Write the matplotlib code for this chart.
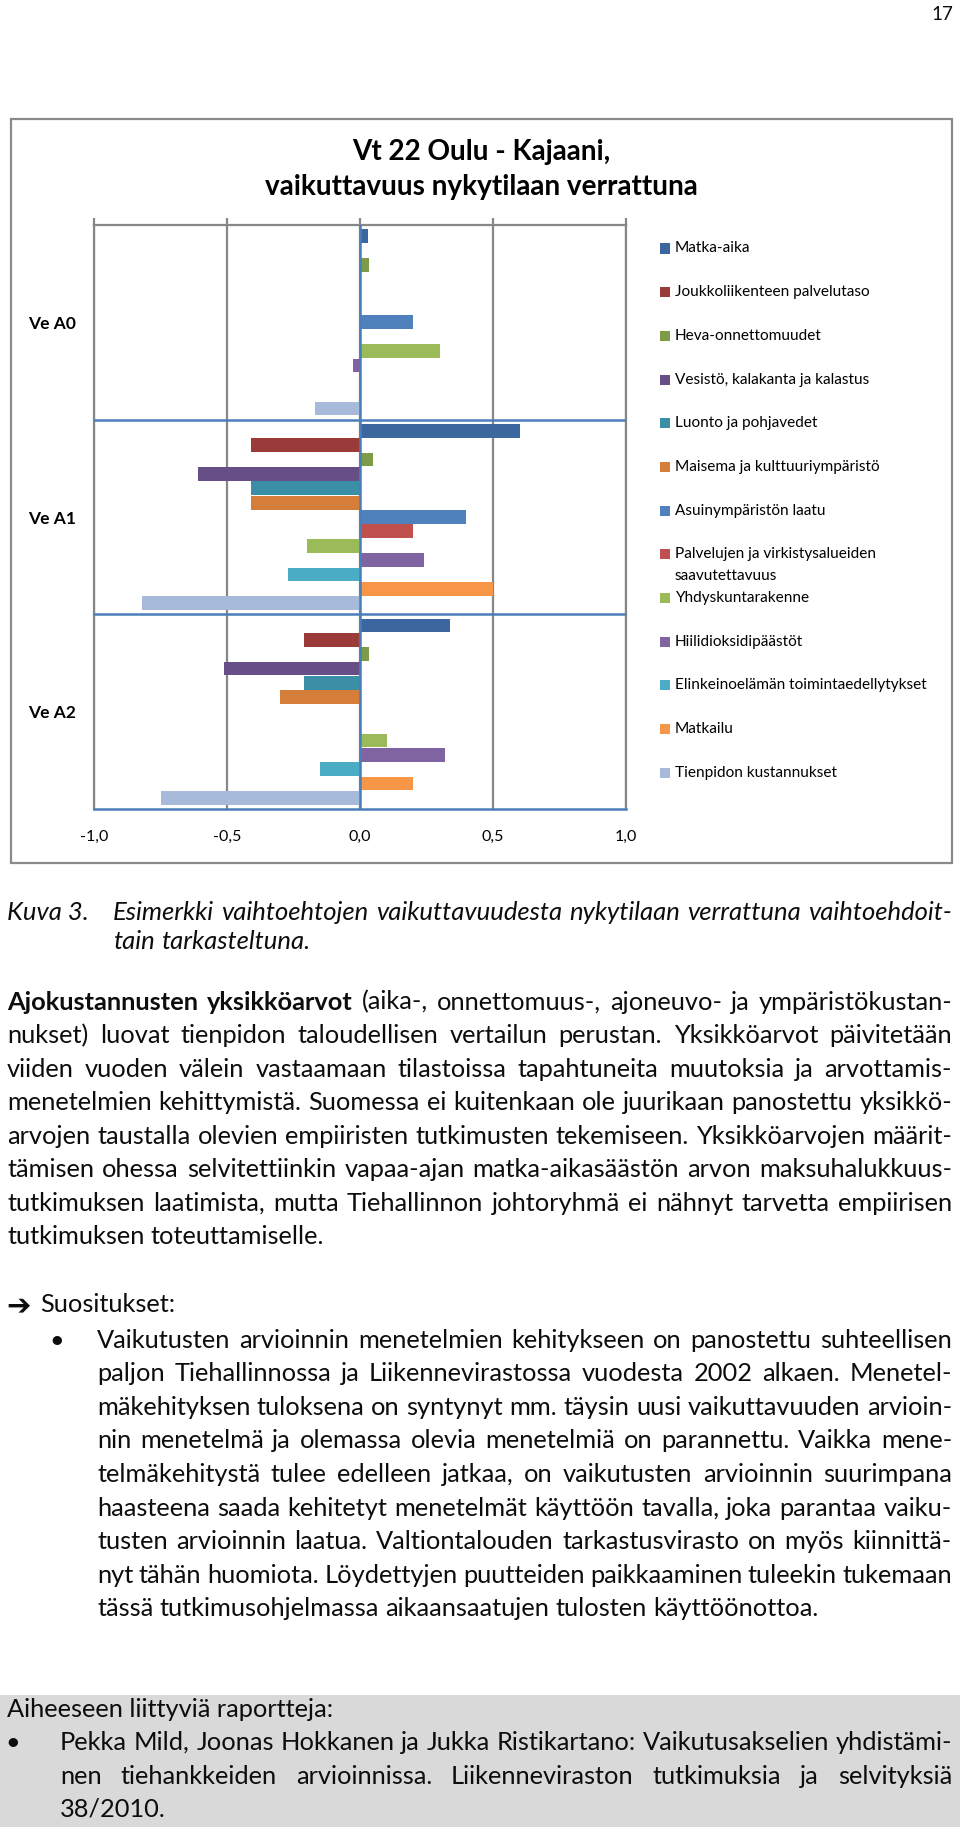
import matplotlib
matplotlib.use('Agg')
import matplotlib.pyplot as plt
from matplotlib.patches import Rectangle
import numpy as np

plt.rcParams['font.family'] = ['Lato', 'DejaVu Sans']

# ---------------- data ----------------
scenarios = ['Ve A0', 'Ve A1', 'Ve A2']
series_names = [
    'Matka-aika', 'Joukkoliikenteen palvelutaso', 'Heva-onnettomuudet',
    'Vesistö, kalakanta ja kalastus', 'Luonto ja pohjavedet',
    'Maisema ja kulttuuriympäristö', 'Asuinympäristön laatu',
    'Palvelujen ja virkistysalueiden\nsaavutettavuus', 'Yhdyskuntarakenne',
    'Hiilidioksidipäästöt', 'Elinkeinoelämän toimintaedellytykset',
    'Matkailu', 'Tienpidon kustannukset']
matka_aika = [0.03, 0.60, 0.34]
joukkoliikenne = [0.0, -0.41, -0.21]
heva = [0.035, 0.05, 0.035]
vesisto = [0.0, -0.61, -0.51]
luonto = [0.0, -0.41, -0.21]
maisema = [0.0, -0.41, -0.30]
asuinymparisto = [0.20, 0.40, 0.0]
palvelut = [0.0, 0.20, 0.0]
yhdyskunta = [0.30, -0.20, 0.10]
hiilidioksidi = [-0.025, 0.24, 0.32]
elinkeino = [0.0, -0.27, -0.15]
matkailu = [0.0, 0.50, 0.20]
tienpito = [-0.17, -0.82, -0.75]
series_values = [matka_aika, joukkoliikenne, heva, vesisto, luonto, maisema,
                 asuinymparisto, palvelut, yhdyskunta, hiilidioksidi,
                 elinkeino, matkailu, tienpito]
series_colors = ['#3B679E', '#9B3B39', '#7E9B48', '#664F86', '#3A8EA5',
                 '#D47E3A', '#4F81BD', '#C0504D', '#9BBB59', '#8064A2',
                 '#4BACC6', '#F79646', '#A7BADA']
x_ticks = [-1.0, -0.5, 0.0, 0.5, 1.0]
x_ticklabels = ['-1,0', '-0,5', '0,0', '0,5', '1,0']

chart_title = ['Vt 22 Oulu - Kajaani,', 'vaikuttavuus nykytilaan verrattuna']
page_number = '17'
caption_label = 'Kuva 3.'
caption_lines = ['Esimerkki vaihtoehtojen vaikuttavuudesta nykytilaan verrattuna vaihtoehdoit-',
                 'tain tarkasteltuna.']
para_lines = [
    'Ajokustannusten yksikköarvot (aika-, onnettomuus-, ajoneuvo- ja ympäristökustan-',
    'nukset) luovat tienpidon taloudellisen vertailun perustan. Yksikköarvot päivitetään',
    'viiden vuoden välein vastaamaan tilastoissa tapahtuneita muutoksia ja arvottamis-',
    'menetelmien kehittymistä. Suomessa ei kuitenkaan ole juurikaan panostettu yksikkö-',
    'arvojen taustalla olevien empiiristen tutkimusten tekemiseen. Yksikköarvojen määrit-',
    'tämisen ohessa selvitettiinkin vapaa-ajan matka-aikasäästön arvon maksuhalukkuus-',
    'tutkimuksen laatimista, mutta Tiehallinnon johtoryhmä ei nähnyt tarvetta empiirisen',
    'tutkimuksen toteuttamiselle.']
suos_head = 'Suositukset:'
suos_lines = [
    'Vaikutusten arvioinnin menetelmien kehitykseen on panostettu suhteellisen',
    'paljon Tiehallinnossa ja Liikennevirastossa vuodesta 2002 alkaen. Menetel-',
    'mäkehityksen tuloksena on syntynyt mm. täysin uusi vaikuttavuuden arvioin-',
    'nin menetelmä ja olemassa olevia menetelmiä on parannettu. Vaikka mene-',
    'telmäkehitystä tulee edelleen jatkaa, on vaikutusten arvioinnin suurimpana',
    'haasteena saada kehitetyt menetelmät käyttöön tavalla, joka parantaa vaiku-',
    'tusten arvioinnin laatua. Valtiontalouden tarkastusvirasto on myös kiinnittä-',
    'nyt tähän huomiota. Löydettyjen puutteiden paikkaaminen tuleekin tukemaan',
    'tässä tutkimusohjelmassa aikaansaatujen tulosten käyttöönottoa.']
box_head = 'Aiheeseen liittyviä raportteja:'
box_lines = [
    'Pekka Mild, Joonas Hokkanen ja Jukka Ristikartano: Vaikutusakselien yhdistämi-',
    'nen tiehankkeiden arvioinnissa. Liikenneviraston tutkimuksia ja selvityksiä',
    '38/2010.']

# ---------------- figure ----------------
W, H = 960, 1834
fig = plt.figure(figsize=(W / 100, H / 100), dpi=100)
fig.patch.set_facecolor('white')
renderer = fig.canvas.get_renderer()
TXT = '#0d0d0d'


def fx(x):
    return x / W


def fy(y):
    return 1 - y / H


def tw(s, size, **kw):
    t = fig.text(0, 0, s, fontsize=size, **kw)
    w = t.get_window_extent(renderer).width
    t.remove()
    return w


def fit(s, target, **kw):
    return 10 * target / tw(s, 10, **kw)


# chart frame
fig.add_artist(Rectangle((fx(11), fy(863)), (952 - 11) / W, (863 - 119) / H,
                         transform=fig.transFigure, fill=False,
                         edgecolor='#8A8A8A', lw=1.6))

tsize = fit(chart_title[1], 433, fontweight='bold')
fig.text(fx(481), fy(152), chart_title[0], ha='center', va='center',
         fontsize=tsize, fontweight='bold', color='black')
fig.text(fx(481), fy(187), chart_title[1], ha='center', va='center',
         fontsize=tsize, fontweight='bold', color='black')

ax = fig.add_axes([fx(94), fy(809), (626 - 94) / W, (809 - 225) / H])
ax.set_xlim(-1, 1)
ax.set_ylim(3, 0)
n = len(series_values)
step = 1 / (n + 0.55)
for i, (vals, col) in enumerate(zip(series_values, series_colors)):
    yy = np.arange(len(scenarios)) + 0.5 + (i - (n - 1) / 2) * step
    ax.barh(yy, vals, height=step * 0.96, color=col, edgecolor='none', zorder=3)

GRAY = '#878787'
BLUE = '#4A7EBB'
ax.set_xticks(x_ticks)
ax.set_xticklabels(x_ticklabels)
ax.xaxis.grid(True, color=GRAY, lw=1.6, zorder=1)
ax.axvline(0, color=BLUE, lw=1.8, zorder=4)
for k in range(1, len(scenarios)):
    ax.axhline(k, color=BLUE, lw=1.8, zorder=4)
for s in ['top', 'left', 'right']:
    ax.spines[s].set_color(GRAY)
    ax.spines[s].set_linewidth(1.6)
ax.spines['bottom'].set_color(BLUE)
ax.spines['bottom'].set_linewidth(1.8)
ax.spines['bottom'].set_zorder(5)
lsize = fit('-1,0', 28)
ax.tick_params(axis='x', top=True, bottom=False, labeltop=False,
               labelbottom=True, direction='out', length=5, width=1.6,
               color=GRAY, pad=10, labelsize=lsize, labelcolor='black')
ax.set_yticks(np.arange(len(scenarios)) + 0.5)
vsize = fit('Ve A0', 48, fontweight='bold')
ax.set_yticklabels(scenarios, fontweight='bold', fontsize=vsize)
ax.tick_params(axis='y', length=0, pad=13)

# legend
legsize = fit('Elinkeinoelämän toimintaedellytykset', 252)
for i, (name, col) in enumerate(zip(series_names, series_colors)):
    yc = 248.5 + 43.7 * i
    fig.add_artist(Rectangle((fx(660), fy(yc + 5)), 10 / W, 10 / H,
                             transform=fig.transFigure, facecolor=col,
                             edgecolor='none'))
    parts = name.split('\n')
    for j, p in enumerate(parts):
        fig.text(fx(675), fy(yc + 21.5 * j), p, ha='left', va='center',
                 fontsize=legsize, color='black')

fig.text(fx(953), fy(14), page_number, ha='right', va='center',
         fontsize=13.5, color=TXT)

# ---------------- body text ----------------
space10 = tw('a a', 10) - tw('aa', 10)


def natural(s, style='normal', bold_words=0):
    words = s.split()
    w = 0
    for k, wd in enumerate(words):
        w += tw(wd, 10, fontweight='bold' if k < bold_words else 'normal',
                fontstyle=style)
    return w + space10 * (len(words) - 1)


justified = [(s, 952 - 7, 2 if k == 0 else 0) for k, s in enumerate(para_lines[:-1])]
justified += [(s, 952 - 97, 0) for s in suos_lines[:-1]]
justified += [(s, 952 - 60, 0) for s in box_lines[:2]]
ratios = np.array([a / natural(s, bold_words=b) for s, a, b in justified])
BS = 10 * np.percentile(ratios, 30) * 0.995
cap_ratio = (952 - 113) / natural(caption_lines[0], style='italic')
CS = min(10 * cap_ratio * 0.995, BS * 1.06)


def line(s, x0, x1, yc, justify=True, bold_words=0, style='normal', size=None):
    size = BS if size is None else size
    words = s.split()
    wts = ['bold' if k < bold_words else 'normal' for k in range(len(words))]
    ws = [tw(w, size, fontweight=wt, fontstyle=style) for w, wt in zip(words, wts)]
    space = space10 * size / 10
    if justify and len(words) > 1:
        if sum(ws) + space * 0.8 * (len(words) - 1) > x1 - x0:
            shrink = (x1 - x0) / (sum(ws) + space * 0.85 * (len(words) - 1))
            size = size * shrink
            ws = [w * shrink for w in ws]
        gap = (x1 - x0 - sum(ws)) / (len(words) - 1)
    else:
        gap = space
    x = x0
    base = yc + 0.26 * size * 100 / 72
    for w, wt, wd in zip(words, wts, ws):
        fig.text(fx(x), fy(base), w, fontsize=size, fontweight=wt, fontstyle=style,
                 ha='left', va='baseline', color=TXT)
        x += wd + gap


bpx = BS * 100 / 72

# caption
fig.text(fx(7), fy(913 + 0.26 * CS * 100 / 72), caption_label, fontsize=CS,
         fontstyle='italic', ha='left', va='baseline', color=TXT)
line(caption_lines[0], 113, 952, 913, True, style='italic', size=CS)
line(caption_lines[1], 113, 952, 942, False, style='italic', size=CS)

# paragraph
for k, s in enumerate(para_lines):
    line(s, 7, 952, 1003 + 33.55 * k, k < len(para_lines) - 1,
         bold_words=2 if k == 0 else 0)

# suositukset
fig.text(fx(6), fy(1306), '\u2794', fontsize=BS * 1.15, ha='left', va='center',
         color=TXT, family=['DejaVu Sans'])
fig.text(fx(40), fy(1305 + 0.26 * bpx), suos_head, fontsize=BS, ha='left',
         va='baseline', color=TXT)
fig.text(fx(57), fy(1341 + 0.26 * bpx), '\u2022', fontsize=BS, ha='center',
         va='baseline', color=TXT)
for k, s in enumerate(suos_lines):
    line(s, 97, 952, 1341 + 33.6 * k, k < len(suos_lines) - 1)

# grey box
fig.add_artist(Rectangle((0, fy(1827)), 1, (1827 - 1695) / H,
                         transform=fig.transFigure, facecolor='#D9D9D9',
                         edgecolor='none', zorder=0))
fig.text(fx(7), fy(1710 + 0.26 * bpx), box_head, fontsize=BS, ha='left',
         va='baseline', color=TXT)
fig.text(fx(13), fy(1743 + 0.26 * bpx), '\u2022', fontsize=BS, ha='center',
         va='baseline', color=TXT)
line(box_lines[0], 60, 952, 1743, True)
line(box_lines[1], 60, 952, 1777, True)
line(box_lines[2], 60, 952, 1810, False)

fig.savefig('out.png', dpi=100, facecolor='white')
